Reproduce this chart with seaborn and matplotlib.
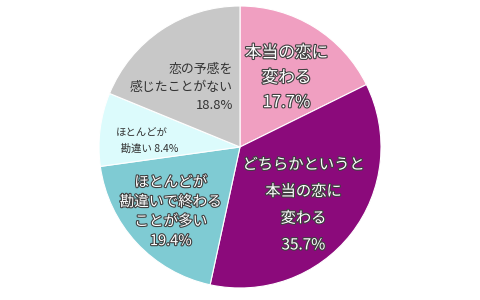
import matplotlib
matplotlib.use("Agg")
import matplotlib.pyplot as plt
import matplotlib.patheffects as pe
import seaborn as sns

categories = ["本当の恋に\n変わる", "どちらかというと\n本当の恋に\n変わる",
              "ほとんどが\n勘違いで終わる\nことが多い", "ほとんどが\n  勘違い", "恋の予感を\n感じたことがない"]
values = [17.7, 35.7, 19.4, 8.4, 18.8]
colors = ["#f09fc1", "#8b0a7b", "#7fcbd3", "#dcfbfc", "#c8c8c8"]

sns.set_theme(style="white")
plt.rcParams['font.family'] = ['Noto Sans CJK JP', 'DejaVu Sans']

fig = plt.figure(figsize=(4.8, 3.0), dpi=100)
ax = fig.add_axes([0, 0, 1, 1])
palette = sns.color_palette(colors)
ax.pie(values, colors=palette, startangle=90, counterclock=False, radius=1.0,
       wedgeprops=dict(edgecolor="white", linewidth=0.8))
ax.set_aspect("equal")
ax.set_xlim(-240/141, 240/141)
ax.set_ylim(-153/141, 147/141)
ax.axis("off")

outline = [pe.withStroke(linewidth=1.6, foreground="#404040")]

def lbl(i):
    return f"{values[i]:.1f}%"

ax.text(0.33, 0.49, categories[0] + "\n" + lbl(0), ha="center", va="center",
        fontsize=12, color="white", linespacing=1.6, path_effects=outline)
ax.text(0.45, -0.41, categories[1] + "\n" + lbl(1), ha="center", va="center",
        fontsize=11, color="white", linespacing=1.75, path_effects=outline)
ax.text(-0.49, -0.46, categories[2] + "\n" + lbl(2), ha="center", va="center",
        fontsize=10.5, color="white", linespacing=1.5, path_effects=outline)
ax.text(-0.66, 0.04, categories[3] + " " + lbl(3), ha="center", va="center",
        multialignment="left", fontsize=7.5, color="#333333", linespacing=1.7)
ax.text(-0.05, 0.42, categories[4] + "\n" + lbl(4), ha="right", va="center",
        multialignment="right", fontsize=9.3, color="#333333", linespacing=1.5)

fig.savefig("out.png", dpi=100)
